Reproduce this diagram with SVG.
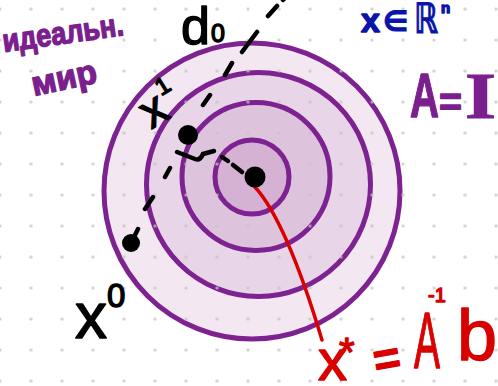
<svg xmlns="http://www.w3.org/2000/svg" width="498" height="386" viewBox="0 0 498 386">
<defs>
<pattern id="grid" patternUnits="userSpaceOnUse" x="-15.5" y="-6.5" width="31" height="31">
<circle cx="15.5" cy="15.5" r="1.6" fill="#c4c4c4"/>
</pattern>
<style>
.ring{stroke:#7d2290;stroke-width:5}
.dash{stroke:#000;stroke-width:4.5;stroke-linecap:round;fill:none}
.ink{font-family:"Liberation Sans","DejaVu Sans",sans-serif;stroke-width:1.4;stroke-linejoin:round}
.blk{fill:#000;stroke:#000}
.pur{fill:#7b1f8e;stroke:#7b1f8e;font-weight:bold}
.red{fill:#d90000;stroke:#d90000}
.blu{fill:#0a14a8;stroke:#0a14a8;font-weight:bold}
</style>
</defs>
<rect width="498" height="386" fill="#fff"/>
<g id="levelsets">
<circle id="ring4" class="ring" cx="252" cy="191" r="148" fill="#f3e7f2"/>
<circle id="ring3" class="ring" cx="258.5" cy="184.5" r="112" fill="#e8d5e8"/>
<circle id="ring2" class="ring" cx="256" cy="176.5" r="74" fill="#dec3dd"/>
<circle id="ring1" class="ring" cx="252" cy="177" r="37" fill="#d5b1d3"/>
</g>
<rect width="498" height="386" fill="url(#grid)" opacity="0.85"/>
<g id="connectors">
<path class="dash" d="M131,243 L138,229 M145,209 L153,197 M165,177 L170,168 M203,105 L210,95 M225,75 L232,63 M242,52 L257,32 M268,16 L277,6 M283,0 L287,-4"/>
<path class="dash" d="M177,152 L195,159 Q200,161 203,154 L214,151 M222,157 L228,161 M233,165 L242,172"/>
<path id="xstar-line" d="M254,186 C272,205 295,250 322,340" fill="none" stroke="#d90000" stroke-width="3.5" stroke-linecap="round"/>
</g>
<g id="x0">
<circle cx="131" cy="243" r="9" fill="#000"/>
<text class="ink blk" x="75" y="338" font-size="64">x</text>
<text class="ink blk" x="107" y="307" font-size="33">0</text>
</g>
<g id="x1">
<circle cx="188" cy="135" r="10" fill="#000"/>
<g transform="rotate(-32 158 110)">
<text class="ink blk" x="142" y="123" font-size="48">x</text>
<text class="ink blk" x="168" y="100" font-size="24">1</text>
</g>
</g>
<g id="xstar">
<circle cx="255" cy="177" r="10.5" fill="#000"/>
</g>
<g id="d0">
<text class="ink blk" x="181" y="44" font-size="52">d</text>
<text class="ink blk" x="211" y="42" font-size="25">0</text>
</g>
<g id="label-ideal">
<text class="ink pur" x="4" y="52" font-size="32" textLength="122" lengthAdjust="spacingAndGlyphs" transform="rotate(-8 4 52)">идеальн.</text>
<text class="ink pur" x="34" y="96" font-size="34" textLength="66" lengthAdjust="spacingAndGlyphs" transform="rotate(-12 34 96)">мир</text>
</g>
<g id="label-space">
<text class="ink blu" x="361" y="32" font-size="34">x</text>
<text class="blu" x="383" y="31" font-size="28" font-family="DejaVu Sans, sans-serif">∈</text>
<text class="blu" x="414" y="33" font-size="42" font-family="DejaVu Sans, sans-serif" textLength="24" lengthAdjust="spacingAndGlyphs">ℝ</text>
<text class="ink blu" x="441" y="13" font-size="15">n</text>
</g>
<g id="label-AI">
<text class="ink pur" x="410" y="117" font-size="63" textLength="29" lengthAdjust="spacingAndGlyphs">A</text>
<text class="ink pur" x="439" y="116" font-size="40" textLength="23" lengthAdjust="spacingAndGlyphs">=</text>
<text class="pur" x="465" y="118" font-size="66" font-family="Liberation Serif, serif" textLength="31" lengthAdjust="spacingAndGlyphs">I</text>
</g>
<g id="label-solution">
<text class="ink red" x="318" y="380" font-size="58">x</text>
<text class="ink red" x="339" y="366" font-size="40">*</text>
<text class="ink red" x="373" y="374" font-size="46" font-weight="bold" transform="rotate(-10 387 357)">=</text>
<text class="ink red" x="414" y="368" font-size="80" textLength="26" lengthAdjust="spacingAndGlyphs">A</text>
<text class="ink red" x="428" y="302" font-size="20">-1</text>
<text class="ink red" x="457" y="360" font-size="72">b</text>
</g>
</svg>
